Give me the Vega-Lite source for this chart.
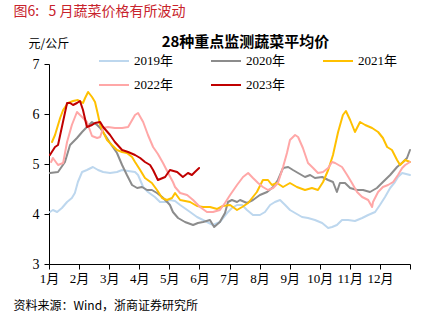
{
  "$schema": "https://vega.github.io/schema/vega-lite/v6.json",
  "autosize": {"type": "none"},
  "width": 361,
  "height": 200,
  "padding": {"left": 49, "top": 64, "right": 31, "bottom": 68},
  "background": "white",
  "config": {
    "view": {"stroke": null},
    "font": "Noto Sans CJK SC"
  },
  "resolve": {"axis": {"y": "independent", "x": "independent"}},
  "layer": [
    {
      "data": {"values": [
        {"s":"2019年","m":0.03,"p":4.04},{"s":"2019年","m":0.13,"p":4.08},{"s":"2019年","m":0.27,"p":4.04},{"s":"2019年","m":0.43,"p":4.12},{"s":"2019年","m":0.60,"p":4.24},{"s":"2019年","m":0.76,"p":4.32},{"s":"2019年","m":0.86,"p":4.42},{"s":"2019年","m":0.96,"p":4.64},{"s":"2019年","m":1.10,"p":4.84},{"s":"2019年","m":1.26,"p":4.88},{"s":"2019年","m":1.46,"p":4.94},{"s":"2019年","m":1.63,"p":4.88},{"s":"2019年","m":1.80,"p":4.84},{"s":"2019年","m":2.03,"p":4.82},{"s":"2019年","m":2.26,"p":4.84},{"s":"2019年","m":2.43,"p":4.88},{"s":"2019年","m":2.63,"p":4.86},{"s":"2019年","m":2.86,"p":4.84},{"s":"2019年","m":2.96,"p":4.78},{"s":"2019年","m":3.13,"p":4.54},{"s":"2019年","m":3.29,"p":4.44},{"s":"2019年","m":3.52,"p":4.34},{"s":"2019年","m":3.69,"p":4.24},{"s":"2019年","m":3.86,"p":4.24},{"s":"2019年","m":4.02,"p":4.28},{"s":"2019年","m":4.19,"p":4.26},{"s":"2019年","m":4.36,"p":4.18},{"s":"2019年","m":4.69,"p":4.04},{"s":"2019年","m":4.92,"p":3.94},{"s":"2019年","m":5.12,"p":3.88},{"s":"2019年","m":5.45,"p":3.78},{"s":"2019年","m":5.68,"p":3.84},{"s":"2019年","m":5.92,"p":4.02},{"s":"2019年","m":6.08,"p":4.12},{"s":"2019年","m":6.25,"p":4.18},{"s":"2019年","m":6.42,"p":4.18},{"s":"2019年","m":6.58,"p":4.08},{"s":"2019年","m":6.78,"p":3.98},{"s":"2019年","m":7.01,"p":3.98},{"s":"2019年","m":7.18,"p":4.04},{"s":"2019年","m":7.35,"p":4.18},{"s":"2019年","m":7.51,"p":4.24},{"s":"2019年","m":7.68,"p":4.28},{"s":"2019年","m":7.85,"p":4.18},{"s":"2019年","m":8.01,"p":4.08},{"s":"2019年","m":8.18,"p":4.02},{"s":"2019年","m":8.41,"p":3.94},{"s":"2019年","m":8.61,"p":3.92},{"s":"2019年","m":8.84,"p":3.88},{"s":"2019年","m":9.08,"p":3.82},{"s":"2019年","m":9.28,"p":3.72},{"s":"2019年","m":9.41,"p":3.74},{"s":"2019年","m":9.57,"p":3.78},{"s":"2019年","m":9.74,"p":3.88},{"s":"2019年","m":9.94,"p":3.88},{"s":"2019年","m":10.17,"p":3.86},{"s":"2019年","m":10.41,"p":3.92},{"s":"2019年","m":10.61,"p":3.98},{"s":"2019年","m":10.84,"p":4.04},{"s":"2019年","m":11.00,"p":4.18},{"s":"2019年","m":11.17,"p":4.34},{"s":"2019年","m":11.34,"p":4.52},{"s":"2019年","m":11.50,"p":4.64},{"s":"2019年","m":11.60,"p":4.74},{"s":"2019年","m":11.74,"p":4.82},{"s":"2019年","m":12.0,"p":4.78},

        {"s":"2020年","m":0.03,"p":4.82},{"s":"2020年","m":0.30,"p":4.84},{"s":"2020年","m":0.53,"p":5.04},{"s":"2020年","m":0.70,"p":5.38},{"s":"2020年","m":0.93,"p":5.52},{"s":"2020年","m":1.10,"p":5.64},{"s":"2020年","m":1.26,"p":5.74},{"s":"2020年","m":1.43,"p":5.84},{"s":"2020年","m":1.60,"p":5.78},{"s":"2020年","m":1.70,"p":5.72},{"s":"2020年","m":1.86,"p":5.58},{"s":"2020年","m":2.03,"p":5.42},{"s":"2020年","m":2.26,"p":5.22},{"s":"2020年","m":2.43,"p":4.98},{"s":"2020年","m":2.59,"p":4.78},{"s":"2020年","m":2.76,"p":4.58},{"s":"2020年","m":2.93,"p":4.52},{"s":"2020年","m":3.09,"p":4.54},{"s":"2020年","m":3.26,"p":4.48},{"s":"2020年","m":3.42,"p":4.48},{"s":"2020年","m":3.59,"p":4.42},{"s":"2020年","m":3.76,"p":4.34},{"s":"2020年","m":3.96,"p":4.22},{"s":"2020年","m":4.02,"p":4.18},{"s":"2020年","m":4.12,"p":4.04},{"s":"2020年","m":4.29,"p":3.92},{"s":"2020年","m":4.52,"p":3.84},{"s":"2020年","m":4.79,"p":3.78},{"s":"2020年","m":4.95,"p":3.82},{"s":"2020年","m":5.12,"p":3.84},{"s":"2020年","m":5.35,"p":3.88},{"s":"2020年","m":5.49,"p":3.74},{"s":"2020年","m":5.68,"p":3.84},{"s":"2020年","m":5.85,"p":4.02},{"s":"2020年","m":5.95,"p":4.24},{"s":"2020年","m":6.08,"p":4.28},{"s":"2020年","m":6.25,"p":4.24},{"s":"2020年","m":6.35,"p":4.28},{"s":"2020年","m":6.58,"p":4.22},{"s":"2020年","m":6.78,"p":4.28},{"s":"2020年","m":7.01,"p":4.38},{"s":"2020年","m":7.25,"p":4.44},{"s":"2020年","m":7.45,"p":4.54},{"s":"2020年","m":7.61,"p":4.68},{"s":"2020年","m":7.78,"p":4.92},{"s":"2020年","m":7.95,"p":4.94},{"s":"2020年","m":8.11,"p":4.88},{"s":"2020年","m":8.28,"p":4.82},{"s":"2020年","m":8.51,"p":4.74},{"s":"2020年","m":8.68,"p":4.78},{"s":"2020年","m":8.84,"p":4.72},{"s":"2020年","m":9.08,"p":4.74},{"s":"2020年","m":9.28,"p":4.68},{"s":"2020年","m":9.44,"p":4.64},{"s":"2020年","m":9.57,"p":4.44},{"s":"2020年","m":9.67,"p":4.62},{"s":"2020年","m":9.84,"p":4.62},{"s":"2020年","m":10.01,"p":4.52},{"s":"2020年","m":10.24,"p":4.48},{"s":"2020年","m":10.44,"p":4.48},{"s":"2020年","m":10.67,"p":4.44},{"s":"2020年","m":10.90,"p":4.52},{"s":"2020年","m":11.10,"p":4.64},{"s":"2020年","m":11.34,"p":4.78},{"s":"2020年","m":11.57,"p":4.94},{"s":"2020年","m":11.77,"p":5.04},{"s":"2020年","m":11.90,"p":5.12},{"s":"2020年","m":12.0,"p":5.28},

        {"s":"2021年","m":0.10,"p":5.44},{"s":"2021年","m":0.20,"p":5.58},{"s":"2021年","m":0.37,"p":5.92},{"s":"2021年","m":0.47,"p":6.08},{"s":"2021年","m":0.63,"p":6.22},{"s":"2021年","m":0.80,"p":6.26},{"s":"2021年","m":0.96,"p":6.28},{"s":"2021年","m":1.13,"p":6.22},{"s":"2021年","m":1.20,"p":6.32},{"s":"2021年","m":1.30,"p":6.44},{"s":"2021年","m":1.43,"p":6.34},{"s":"2021年","m":1.53,"p":6.24},{"s":"2021年","m":1.63,"p":5.98},{"s":"2021年","m":1.70,"p":5.78},{"s":"2021年","m":1.80,"p":5.64},{"s":"2021年","m":1.93,"p":5.48},{"s":"2021年","m":2.09,"p":5.38},{"s":"2021年","m":2.26,"p":5.28},{"s":"2021年","m":2.43,"p":5.24},{"s":"2021年","m":2.59,"p":5.22},{"s":"2021年","m":2.76,"p":5.14},{"s":"2021年","m":2.86,"p":5.04},{"s":"2021年","m":3.03,"p":4.88},{"s":"2021年","m":3.19,"p":4.72},{"s":"2021年","m":3.42,"p":4.62},{"s":"2021年","m":3.59,"p":4.48},{"s":"2021年","m":3.76,"p":4.32},{"s":"2021年","m":3.92,"p":4.28},{"s":"2021年","m":4.09,"p":4.32},{"s":"2021年","m":4.19,"p":4.42},{"s":"2021年","m":4.36,"p":4.28},{"s":"2021年","m":4.69,"p":4.24},{"s":"2021年","m":4.92,"p":4.16},{"s":"2021年","m":5.12,"p":4.14},{"s":"2021年","m":5.35,"p":4.14},{"s":"2021年","m":5.59,"p":4.10},{"s":"2021年","m":5.78,"p":4.16},{"s":"2021年","m":6.02,"p":4.18},{"s":"2021年","m":6.25,"p":4.08},{"s":"2021年","m":6.42,"p":4.14},{"s":"2021年","m":6.62,"p":4.22},{"s":"2021年","m":6.91,"p":4.44},{"s":"2021年","m":7.11,"p":4.68},{"s":"2021年","m":7.28,"p":4.68},{"s":"2021年","m":7.41,"p":4.58},{"s":"2021年","m":7.58,"p":4.62},{"s":"2021年","m":7.78,"p":4.54},{"s":"2021年","m":8.01,"p":4.62},{"s":"2021年","m":8.24,"p":4.54},{"s":"2021年","m":8.51,"p":4.48},{"s":"2021年","m":8.74,"p":4.52},{"s":"2021年","m":8.94,"p":4.48},{"s":"2021年","m":9.11,"p":4.64},{"s":"2021年","m":9.28,"p":4.88},{"s":"2021年","m":9.44,"p":5.18},{"s":"2021年","m":9.61,"p":5.64},{"s":"2021年","m":9.77,"p":5.98},{"s":"2021年","m":9.87,"p":6.06},{"s":"2021年","m":10.01,"p":5.88},{"s":"2021年","m":10.17,"p":5.64},{"s":"2021年","m":10.34,"p":5.84},{"s":"2021年","m":10.51,"p":5.78},{"s":"2021年","m":10.74,"p":5.72},{"s":"2021年","m":10.94,"p":5.64},{"s":"2021年","m":11.10,"p":5.52},{"s":"2021年","m":11.24,"p":5.34},{"s":"2021年","m":11.40,"p":5.28},{"s":"2021年","m":11.57,"p":5.08},{"s":"2021年","m":11.67,"p":4.98},{"s":"2021年","m":11.84,"p":5.08},{"s":"2021年","m":12.0,"p":5.04},

        {"s":"2022年","m":0.07,"p":5.04},{"s":"2022年","m":0.13,"p":5.12},{"s":"2022年","m":0.30,"p":4.98},{"s":"2022年","m":0.47,"p":5.02},{"s":"2022年","m":0.60,"p":5.44},{"s":"2022年","m":0.76,"p":5.78},{"s":"2022年","m":0.93,"p":6.04},{"s":"2022年","m":1.10,"p":5.94},{"s":"2022年","m":1.26,"p":5.84},{"s":"2022年","m":1.43,"p":5.56},{"s":"2022年","m":1.60,"p":5.52},{"s":"2022年","m":1.70,"p":5.54},{"s":"2022年","m":1.80,"p":5.72},{"s":"2022年","m":1.96,"p":5.74},{"s":"2022年","m":2.19,"p":5.72},{"s":"2022年","m":2.43,"p":5.72},{"s":"2022年","m":2.63,"p":5.74},{"s":"2022年","m":2.86,"p":5.98},{"s":"2022年","m":2.96,"p":6.02},{"s":"2022年","m":3.13,"p":5.84},{"s":"2022年","m":3.29,"p":5.58},{"s":"2022年","m":3.46,"p":5.34},{"s":"2022年","m":3.62,"p":5.20},{"s":"2022年","m":3.79,"p":5.02},{"s":"2022年","m":3.96,"p":4.82},{"s":"2022年","m":4.12,"p":4.64},{"s":"2022年","m":4.19,"p":4.54},{"s":"2022年","m":4.36,"p":4.42},{"s":"2022年","m":4.59,"p":4.38},{"s":"2022年","m":4.79,"p":4.28},{"s":"2022年","m":5.02,"p":4.14},{"s":"2022年","m":5.25,"p":4.04},{"s":"2022年","m":5.45,"p":4.04},{"s":"2022年","m":5.68,"p":4.08},{"s":"2022年","m":5.85,"p":4.22},{"s":"2022年","m":6.02,"p":4.38},{"s":"2022年","m":6.25,"p":4.58},{"s":"2022年","m":6.45,"p":4.74},{"s":"2022年","m":6.62,"p":4.82},{"s":"2022年","m":6.78,"p":4.72},{"s":"2022年","m":6.95,"p":4.62},{"s":"2022年","m":7.11,"p":4.54},{"s":"2022年","m":7.28,"p":4.48},{"s":"2022年","m":7.45,"p":4.52},{"s":"2022年","m":7.61,"p":4.62},{"s":"2022年","m":7.78,"p":4.94},{"s":"2022年","m":7.91,"p":5.22},{"s":"2022年","m":8.01,"p":5.48},{"s":"2022年","m":8.18,"p":5.58},{"s":"2022年","m":8.28,"p":5.54},{"s":"2022年","m":8.44,"p":5.32},{"s":"2022年","m":8.61,"p":5.02},{"s":"2022年","m":8.78,"p":4.92},{"s":"2022年","m":8.94,"p":4.82},{"s":"2022年","m":9.11,"p":4.84},{"s":"2022年","m":9.28,"p":4.92},{"s":"2022年","m":9.41,"p":5.04},{"s":"2022年","m":9.51,"p":5.02},{"s":"2022年","m":9.74,"p":4.94},{"s":"2022年","m":9.91,"p":4.78},{"s":"2022年","m":10.07,"p":4.62},{"s":"2022年","m":10.24,"p":4.44},{"s":"2022年","m":10.41,"p":4.34},{"s":"2022年","m":10.61,"p":4.28},{"s":"2022年","m":10.74,"p":4.14},{"s":"2022年","m":10.77,"p":4.24},{"s":"2022年","m":10.94,"p":4.44},{"s":"2022年","m":11.10,"p":4.54},{"s":"2022年","m":11.27,"p":4.58},{"s":"2022年","m":11.44,"p":4.64},{"s":"2022年","m":11.60,"p":4.78},{"s":"2022年","m":11.74,"p":4.92},{"s":"2022年","m":11.84,"p":4.98},{"s":"2022年","m":12.0,"p":5.04},

        {"s":"2023年","m":0.03,"p":5.18},{"s":"2023年","m":0.20,"p":5.34},{"s":"2023年","m":0.30,"p":5.38},{"s":"2023年","m":0.60,"p":6.22},{"s":"2023年","m":0.70,"p":6.22},{"s":"2023年","m":0.80,"p":6.18},{"s":"2023年","m":0.93,"p":6.22},{"s":"2023年","m":1.03,"p":6.26},{"s":"2023年","m":1.13,"p":6.08},{"s":"2023年","m":1.26,"p":5.74},{"s":"2023年","m":1.43,"p":5.78},{"s":"2023年","m":1.53,"p":5.82},{"s":"2023年","m":1.70,"p":5.84},{"s":"2023年","m":1.80,"p":5.74},{"s":"2023年","m":2.03,"p":5.58},{"s":"2023年","m":2.19,"p":5.44},{"s":"2023年","m":2.43,"p":5.28},{"s":"2023年","m":2.63,"p":5.24},{"s":"2023年","m":2.86,"p":5.18},{"s":"2023年","m":3.03,"p":5.12},{"s":"2023年","m":3.19,"p":5.04},{"s":"2023年","m":3.36,"p":4.98},{"s":"2023年","m":3.46,"p":4.88},{"s":"2023年","m":3.62,"p":4.68},{"s":"2023年","m":3.86,"p":4.74},{"s":"2023年","m":4.02,"p":4.88},{"s":"2023年","m":4.26,"p":4.84},{"s":"2023年","m":4.45,"p":4.74},{"s":"2023年","m":4.62,"p":4.82},{"s":"2023年","m":4.75,"p":4.78},{"s":"2023年","m":4.85,"p":4.84},{"s":"2023年","m":4.99,"p":4.92}
      ]},
      "mark": {"type": "line", "strokeJoin": "round", "strokeCap": "round"},
      "encoding": {
        "x": {
          "field": "m", "type": "quantitative",
          "scale": {"domain": [0, 12], "nice": false, "zero": false},
          "axis": {
            "values": [0,1,2,3,4,5,6,7,8,9,10,11,12],
            "labelExpr": "datum.value < 12 ? (datum.value + 1) + '月' : ''",
            "grid": false, "tickSize": 5, "tickColor": "#000000", "domainColor": "#000000",
            "labelFont": "Liberation Serif, Noto Sans CJK SC", "labelFontSize": 13, "labelColor": "#000000",
            "labelPadding": 3, "labelFlush": false, "labelOverlap": false,
            "title": "资料来源：Wind，浙商证券研究所",
            "titleX": -36, "titleY": 41, "titleAlign": "left", "titleBaseline": "middle",
            "titleFontSize": 12, "titleFontWeight": "normal", "titleColor": "#000000",
            "titleFont": "Noto Sans CJK SC"
          }
        },
        "y": {
          "field": "p", "type": "quantitative",
          "scale": {"domain": [3, 7], "nice": false, "zero": false},
          "axis": {
            "values": [3,4,5,6,7],
            "grid": false, "tickSize": 5, "tickColor": "#000000", "domainColor": "#000000",
            "labelFont": "Liberation Serif", "labelFontSize": 14, "labelColor": "#000000",
            "labelPadding": 5,
            "title": "元/公斤", "titleAngle": 0, "titleX": -21, "titleY": -21,
            "titleAlign": "left", "titleBaseline": "middle", "titleFontSize": 12,
            "titleFontWeight": "normal", "titleColor": "#000000", "titleFont": "Noto Sans CJK SC"
          }
        },
        "color": {
          "field": "s", "type": "nominal",
          "scale": {"domain": ["2019年","2020年","2021年","2022年","2023年"], "range": ["#BDD7EE","#8C8C8C","#FFC000","#FFA7A7","#C00000"]},
          "legend": {
            "title": null, "orient": "none", "legendX": 49, "legendY": -19, "columns": 3,
            "direction": "horizontal",
            "symbolType": "stroke", "symbolSize": 900, "symbolStrokeWidth": 2.5,
            "labelFont": "Liberation Serif, Noto Sans CJK SC", "labelFontSize": 13, "labelColor": "#000000",
            "columnPadding": 33, "rowPadding": 1, "padding": 0, "labelOffset": 4
          }
        },
        "strokeWidth": {
          "field": "s", "type": "nominal",
          "scale": {"domain": ["2019年","2020年","2021年","2022年","2023年"], "range": [2,2,2,2,3.5]},
          "legend": null
        }
      }
    },
    {
      "mark": {"type": "rule", "color": "#CC2229", "strokeWidth": 1.2},
      "encoding": {
        "x": {"datum": -1.2, "type": "quantitative", "scale": {"domain": [0, 12]}, "axis": null},
        "x2": {"datum": 12.43},
        "y": {"datum": 7.88, "type": "quantitative", "scale": {"domain": [3, 7]},
          "axis": {
            "orient": "right", "domain": false, "ticks": false, "labels": false, "grid": false,
            "title": "图6:\u00a0\u00a0\u00a05\u00a0月蔬菜价格有所波动", "titleAngle": 0, "titleX": -397, "titleY": -53,
            "titleAlign": "left", "titleBaseline": "middle", "titleFontSize": 14,
            "titleFontWeight": "normal", "titleColor": "#C8232C", "titleFont": "Noto Sans CJK SC"
          }
        }
      }
    },
    {
      "mark": {"type": "rule", "color": "#E8A3A3", "strokeWidth": 1.2},
      "encoding": {
        "x": {"datum": -1.2, "type": "quantitative", "scale": {"domain": [0, 12]},
          "axis": {
            "orient": "top", "domain": false, "ticks": false, "labels": false, "grid": false,
            "title": "28种重点监测蔬菜平均价", "titleX": 196, "titleY": -23,
            "titleAlign": "center", "titleBaseline": "middle", "titleFontSize": 15,
            "titleFontWeight": "bold", "titleColor": "#000000", "titleFont": "Noto Sans CJK SC"
          }
        },
        "x2": {"datum": 12.43},
        "y": {"datum": 2.4, "type": "quantitative", "scale": {"domain": [3, 7]}, "axis": null}
      }
    }
  ]
}
